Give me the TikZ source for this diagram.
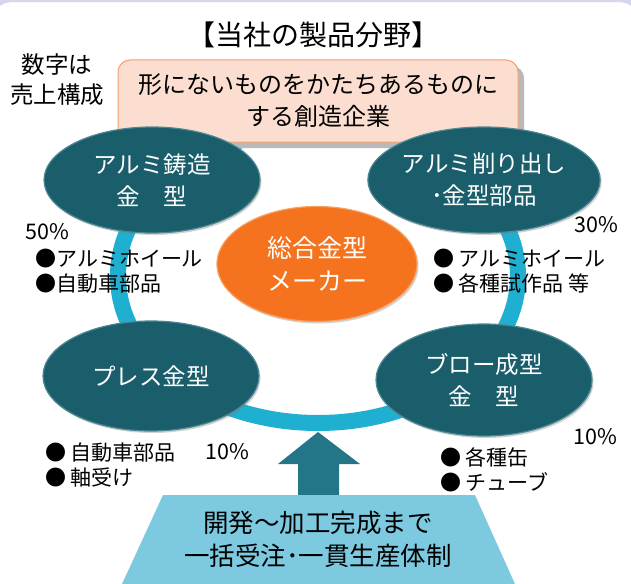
\documentclass[tikz,border=0pt]{standalone}
\usepackage{fontspec}
\setmainfont{Noto Sans CJK JP}
\usetikzlibrary{shapes.geometric,shadows}
\definecolor{lav}{HTML}{D6D6EC}
\definecolor{lavD}{HTML}{C4C4E2}
\definecolor{tealA}{HTML}{1B5E6B}
\definecolor{tealB}{HTML}{4C8894}
\definecolor{orA}{HTML}{F5731E}
\definecolor{orB}{HTML}{F8A060}
\definecolor{ringC}{HTML}{1FAFD0}
\definecolor{arrC}{HTML}{237687}
\definecolor{trapC}{HTML}{7DCAE0}
\definecolor{banF}{HTML}{FCDED0}
\definecolor{banB}{HTML}{F4A070}
\begin{document}
\begin{tikzpicture}[x=1pt,y=-1pt,
  lab/.style={anchor=west, align=left, inner sep=0, font=\fontsize{21}{25}\selectfont},
  pct/.style={anchor=west, inner sep=0, font=\fontsize{21.5}{25}\selectfont},
  mold/.style={ellipse, fill=tealA, draw=tealB, line width=1.2pt, minimum width=216pt, minimum height=106pt, inner sep=0, text=white, align=center, font=\fontsize{23.5}{32}\selectfont, drop shadow={opacity=0.35, shadow xshift=1.5pt, shadow yshift=-2pt}},
]
\useasboundingbox (0,0) rectangle (631,583);
% frame
\fill[lav] (0,0) rectangle (631,583);
\filldraw[fill=white, draw=lavD, rounded corners=16pt] (-6,2) rectangle (637,620);
% title
\node (title) at (313,35) [inner sep=0, font=\fontsize{28}{30}\selectfont] {【当社の製品分野】};
\node (note) at (57,80) [inner sep=0, align=center, font=\fontsize{23.5}{30}\selectfont] {数字は\\売上構成};
% ring
\draw[ringC, line width=16pt] (318,276) ellipse [x radius=200pt, y radius=147pt];
% banner
\fill[gray!55, rounded corners=12pt] (124,66) rectangle (524,148);
\node (banner) at (318,101) [draw=banB, fill=banF, line width=1pt, rounded corners=12pt, minimum width=400pt, minimum height=82pt, inner sep=0, align=center, font=\fontsize{24}{32}\selectfont] {形にないものをかたちあるものに\\する創造企業};
% molds
\node (m1) at (152,180) [mold] {アルミ鋳造\\金　型};
\node (m2) at (484,180) [mold] {アルミ削り出し\\･金型部品};
\node (m3) at (151,376) [mold, minimum height=110pt] {プレス金型};
\node (m4) at (484,380) [mold, minimum height=112pt] {ブロー成型\\金　型};
\node (core) at (317,264) [ellipse, fill=orA, draw=orB, line width=1.2pt, minimum width=200pt, minimum height=115pt, inner sep=0, text=white, align=center, font=\fontsize{25}{33}\selectfont, drop shadow={opacity=0.35, shadow xshift=1.5pt, shadow yshift=-2pt}] {総合金型\\メーカー};
% labels
\node (p1) at (25,232) [pct] {50\%};
\node (l1) at (35,271) [lab] {●アルミホイール\\●自動車部品};
\node (p2) at (574,225) [pct] {30\%};
\node (l2) at (433,271) [lab] {● アルミホイール\\● 各種試作品 等};
\node (l3) at (45,465) [lab] {● 自動車部品\\● 軸受け};
\node (p3) at (205,452) [pct] {10\%};
\node (p4) at (573,437) [pct] {10\%};
\node (l4) at (440,470) [lab] {● 各種缶\\● チューブ};
% arrow
\fill[arrC] (298,496) -- (298,464) -- (278,464) -- (318,432) -- (360,464) -- (339,464) -- (339,496) -- cycle;
% trapezoid
\fill[trapC] (163,495) -- (475,495) -- (515,584) -- (122,584) -- cycle;
\node (base) at (318,539) [inner sep=0, align=center, font=\fontsize{25.5}{33}\selectfont] {開発〜加工完成まで\\一括受注･一貫生産体制};
\end{tikzpicture}
\end{document}
